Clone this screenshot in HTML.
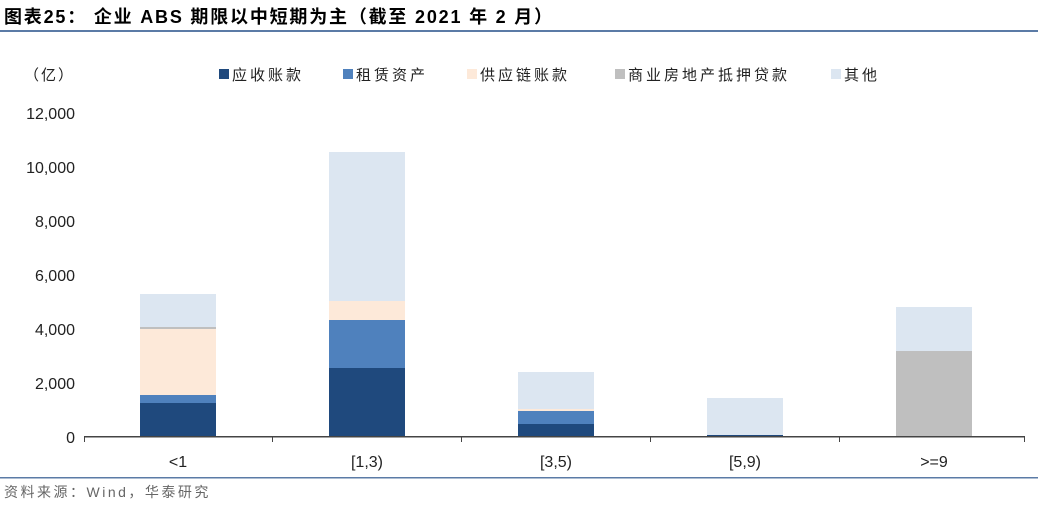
<!DOCTYPE html>
<html><head><meta charset="utf-8"><style>
body{margin:0;background:#fff;}
svg{display:block;font-family:"Liberation Sans","Noto Sans CJK SC",sans-serif;}
</style></head><body>
<svg width="1038" height="508" viewBox="0 0 1038 508" xmlns="http://www.w3.org/2000/svg">
<text x="4" y="23" font-size="18" font-weight="bold" fill="#000" letter-spacing="1.8">图表25：  企业 ABS 期限以中短期为主（截至 2021 年 2 月）</text>
<rect x="0" y="30" width="1038" height="2" fill="#5b7ba6"/>
<text x="24" y="80" font-size="15" fill="#222" letter-spacing="2">（亿）</text>
<g font-size="15" fill="#222" letter-spacing="3">
<rect x="219" y="69" width="10" height="10" fill="#1f497d"/><text x="232" y="80">应收账款</text>
<rect x="343" y="69" width="10" height="10" fill="#4f81bd"/><text x="356" y="80">租赁资产</text>
<rect x="467" y="69" width="10" height="10" fill="#fde9d9"/><text x="480" y="80">供应链账款</text>
<rect x="615" y="69" width="10" height="10" fill="#bfbfbf"/><text x="628" y="80">商业房地产抵押贷款</text>
<rect x="831" y="69" width="10" height="10" fill="#dce6f1"/><text x="844" y="80">其他</text>
</g>
<g font-size="16" fill="#222" text-anchor="end">
<text x="75" y="443">0</text>
<text x="75" y="389">2,000</text>
<text x="75" y="335">4,000</text>
<text x="75" y="281">6,000</text>
<text x="75" y="227">8,000</text>
<text x="75" y="173">10,000</text>
<text x="75" y="119">12,000</text>
</g>
<rect x="140" y="403" width="76" height="34" fill="#1f497d"/>
<rect x="140" y="395" width="76" height="8" fill="#4f81bd"/>
<rect x="140" y="329" width="76" height="66" fill="#fde9d9"/>
<rect x="140" y="327" width="76" height="2" fill="#bfbfbf"/>
<rect x="140" y="294" width="76" height="33" fill="#dce6f1"/>
<rect x="329" y="368" width="76" height="69" fill="#1f497d"/>
<rect x="329" y="320" width="76" height="48" fill="#4f81bd"/>
<rect x="329" y="301" width="76" height="19" fill="#fde9d9"/>
<rect x="329" y="152" width="76" height="149" fill="#dce6f1"/>
<rect x="518" y="424" width="76" height="13" fill="#1f497d"/>
<rect x="518" y="411" width="76" height="13" fill="#4f81bd"/>
<rect x="518" y="409" width="76" height="2" fill="#fde9d9"/>
<rect x="518" y="372" width="76" height="37" fill="#dce6f1"/>
<rect x="707" y="435" width="76" height="2" fill="#1f497d"/>
<rect x="707" y="398" width="76" height="37" fill="#dce6f1"/>
<rect x="896" y="351" width="76" height="86" fill="#bfbfbf"/>
<rect x="896" y="307" width="76" height="44" fill="#dce6f1"/>
<rect x="84" y="436" width="941" height="1.5" fill="#444"/>
<g stroke="#444" stroke-width="1">
<line x1="84.5" y1="437" x2="84.5" y2="442"/><line x1="272.5" y1="437" x2="272.5" y2="442"/>
<line x1="461.5" y1="437" x2="461.5" y2="442"/><line x1="650.5" y1="437" x2="650.5" y2="442"/>
<line x1="839.5" y1="437" x2="839.5" y2="442"/><line x1="1024.5" y1="437" x2="1024.5" y2="442"/>
</g>
<g font-size="16" fill="#222" text-anchor="middle">
<text x="178" y="467">&lt;1</text>
<text x="367" y="467">[1,3)</text>
<text x="556" y="467">[3,5)</text>
<text x="745" y="467">[5,9)</text>
<text x="934" y="467">&gt;=9</text>
</g>
<rect x="0" y="477" width="1038" height="1.5" fill="#5b7ba6"/>
<text x="4" y="497" font-size="14" fill="#666" letter-spacing="2.5">资料来源：Wind，华泰研究</text>
</svg>
</body></html>
